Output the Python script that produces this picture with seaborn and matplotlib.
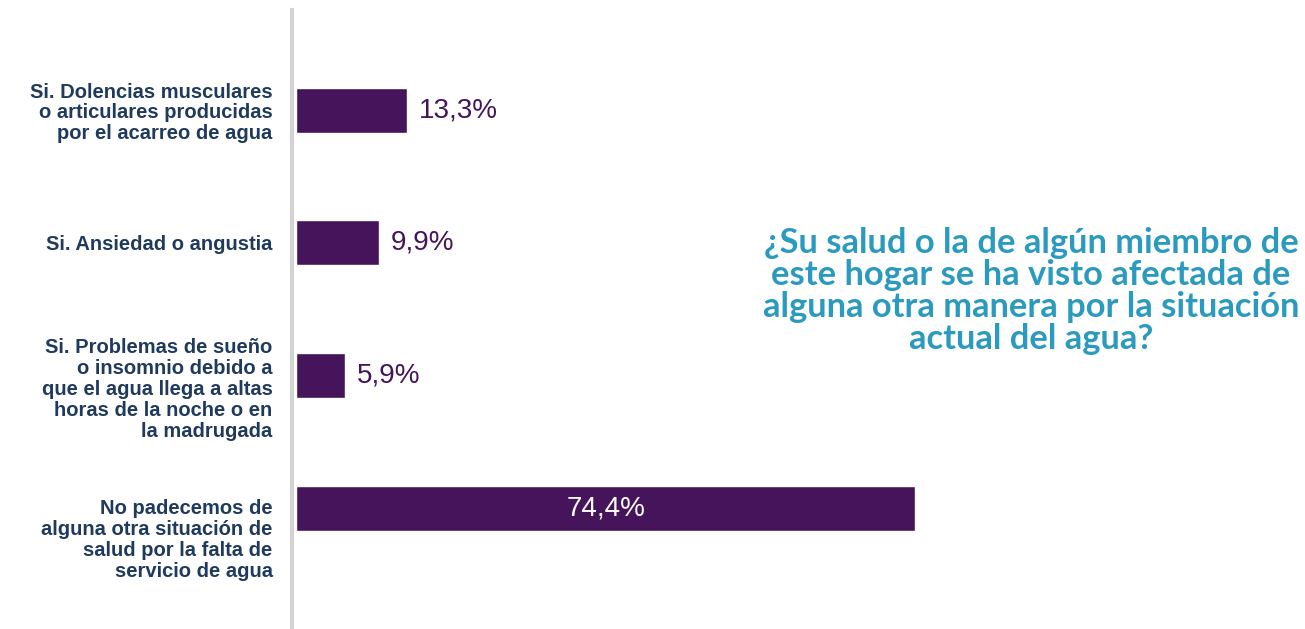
import matplotlib
matplotlib.use("Agg")
import matplotlib.pyplot as plt
import matplotlib.transforms as mtransforms
import seaborn as sns
import pandas as pd

# Survey answers (one bar per answer) and their shares in percent
categories = [
    "Si. Dolencias musculares\no articulares producidas\npor el acarreo de agua",
    "Si. Ansiedad o angustia",
    "Si. Problemas de sueño\no insomnio debido a\nque el agua llega a altas\nhoras de la noche o en\nla madrugada",
    "No padecemos de\nalguna otra situación de\nsalud por la falta de\nservicio de agua",
]
values = [13.3, 9.9, 5.9, 74.4]
value_labels = ["13,3%", "9,9%", "5,9%", "74,4%"]
title = ("¿Su salud o la de algún miembro de\n"
         "este hogar se ha visto afectada de\n"
         "alguna otra manera por la situación\n"
         "actual del agua?")

BAR = "#45145a"
NAVY = "#1f3a5c"
TEAL = "#2a9abf"
AXIS_GREY = "#d4d4d4"

sns.set_theme(style="white")
plt.rcParams["font.family"] = ["Liberation Sans", "DejaVu Sans"]

W, H = 1305, 629
fig = plt.figure(figsize=(W / 100, H / 100), dpi=100)
fig.patch.set_facecolor("white")
ax = fig.add_axes([292 / W, 0, (962 - 292) / W, 619 / H])

df = pd.DataFrame({"respuesta": categories, "porcentaje": values})
sns.barplot(data=df, x="porcentaje", y="respuesta", orient="h",
            color=BAR, saturation=1, width=0.34, ax=ax)

ax.set_xlim(-0.5, 80)
ax.set_ylim(3.91, -0.754)
ax.set_xlabel("")
ax.set_ylabel("")
ax.set_xticks([])

# Category labels on the left
ax.set_yticks(range(len(categories)))
ax.set_yticklabels(categories, fontsize=14.5, fontweight="bold", color=NAVY,
                   ha="right", multialignment="right", linespacing=1.12)
ax.tick_params(axis="y", length=0, pad=14)
shifts = [0, 0, -11, -29]
for lab, dy in zip(ax.get_yticklabels(), shifts):
    lab.set_transform(lab.get_transform() +
                      mtransforms.ScaledTranslation(0, dy / 100, fig.dpi_scale_trans))

for side in ["top", "right", "bottom"]:
    ax.spines[side].set_visible(False)
ax.spines["left"].set_color(AXIS_GREY)
ax.spines["left"].set_linewidth(3)
ax.set_zorder(1)

# Value labels: white inside long bars, bar-coloured just past short ones
fig.canvas.draw()
renderer = fig.canvas.get_renderer()
px_per_unit = ax.transData.transform((1, 0))[0] - ax.transData.transform((0, 0))[0]
for i, (v, txt) in enumerate(zip(values, value_labels)):
    t = ax.text(v / 2, i, txt, fontsize=20, color="white",
                ha="center", va="center")
    tw = t.get_window_extent(renderer).width
    if v * px_per_unit < tw + 80:
        t.set_x(v + 12 / px_per_unit)
        t.set_ha("left")
        t.set_color(BAR)

fig.text(1031 / W, 1 - 291 / H, title, ha="center", va="center",
         multialignment="center", fontsize=24.8, fontweight="bold",
         family=["Lato", "DejaVu Sans"], color=TEAL, linespacing=1.0)

fig.savefig("out.png", dpi=100, facecolor="white")
